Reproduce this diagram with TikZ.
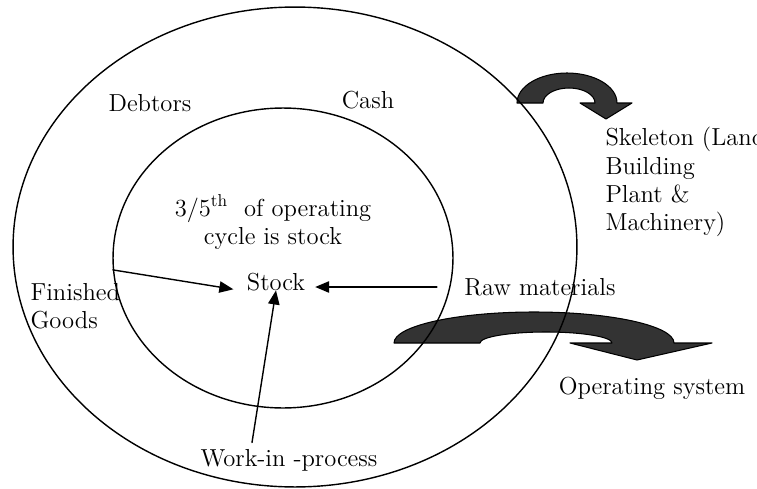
\documentclass[tikz,border=0pt]{standalone}
\usepackage{fontspec}
\usetikzlibrary{arrows.meta,shapes.geometric}
\begin{document}
\begin{tikzpicture}[x=0.02cm,y=0.02cm,font=\fontsize{14}{16}\selectfont,line width=0.8pt,line join=round,line cap=round,>={Triangle[length=8pt,width=6.5pt]},
 ring/.style={draw,ellipse,inner sep=0pt},
 band/.style={fill=black!80,draw=black,line width=0.6pt}]
 \useasboundingbox (0,0) rectangle (757,488);
 % thick bent arrows
 \draw[band] (517,385) arc[start angle=180,end angle=0,x radius=50,y radius=30]
 -- (632,385) -- (606,369) -- (580,385) -- (595,385)
 arc[start angle=0,end angle=180,x radius=26,y radius=15] -- cycle;
 \draw[band] (394,145) arc[start angle=180,end angle=0,x radius=140,y radius=31]
 -- (712,145) -- (637,128) -- (570,145) -- (612,145)
 arc[start angle=0,end angle=180,x radius=66,y radius=11] -- cycle;
 % rings
 \node[ring,minimum width=11.28cm,minimum height=9.6cm] (outer) at (295,241) {};
 \node[ring,minimum width=6.8cm,minimum height=6cm] (inner) at (283,230) {};
 % labels
 \node (debtors) at (150,385) {Debtors};
 \node (cash) at (368,388) {Cash};
 \node[align=center] (note) at (273,266) {3/5\textsuperscript{th}\ \ of operating\\cycle is stock};
 \node (stock) at (276,206) {Stock};
 \node (raw) at (540,201) {Raw materials};
 \node[anchor=west,align=left] (finished) at (24,182) {Finished\\Goods};
 \node (wip) at (289,28) {Work-in -process};
 \node[anchor=west,align=left] (skeleton) at (599,306) {Skeleton (Land\\Building\\Plant \&\\Machinery)};
 \node (opsys) at (652,100) {Operating system};
 % flows into stock
 \draw[->,shorten >=4pt] (inner.184) -- (stock.base west);
 \draw[->,shorten <=12pt,shorten >=2pt] (raw.west) -- (raw.west -| stock.east);
 \draw[->] ([shift={(-37,0)}]wip.north) -- (stock.base);
\end{tikzpicture}
\end{document}
